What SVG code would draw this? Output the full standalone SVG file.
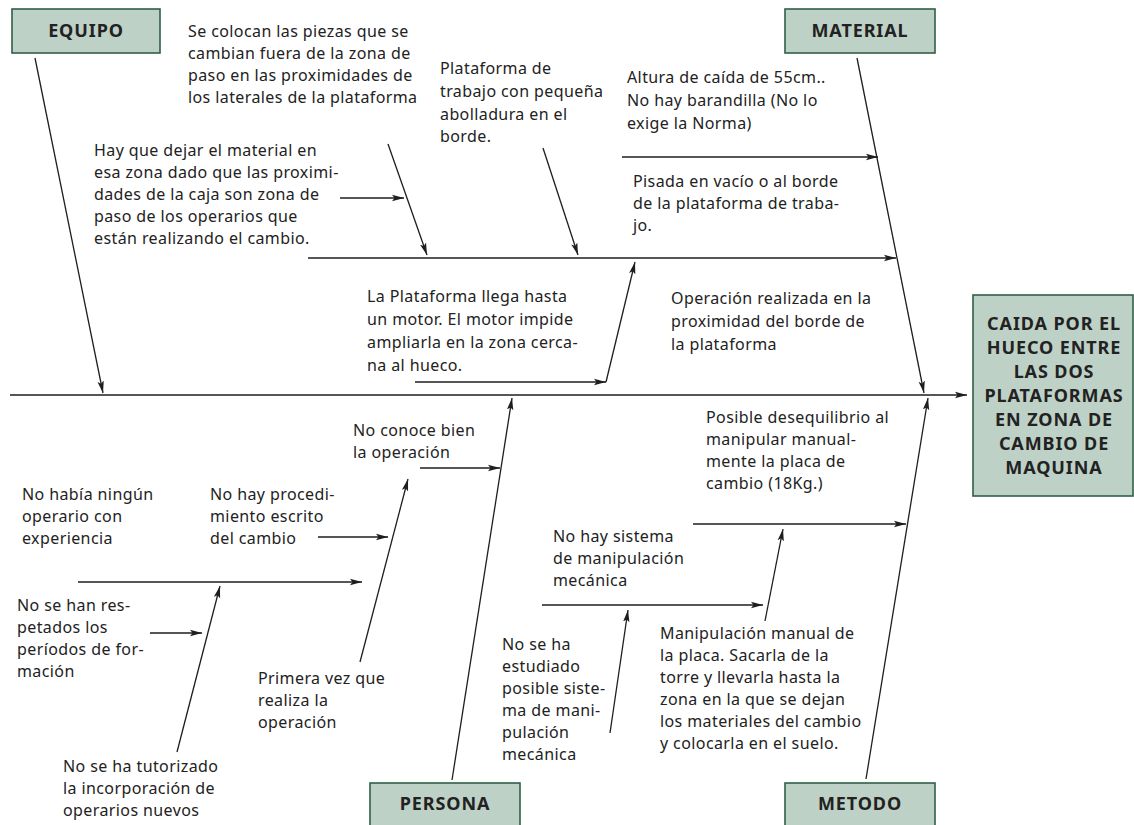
<svg xmlns="http://www.w3.org/2000/svg" width="1134" height="825" viewBox="0 0 1134 825">
<defs>
<marker id="ah" viewBox="0 0 12 8" refX="12" refY="4" markerWidth="12" markerHeight="8" markerUnits="userSpaceOnUse" orient="auto">
<path d="M0,0.8 L12,4 L0,7.2 L2.5,4 z" fill="#1e1e1e"/>
</marker>
</defs>
<style>
.box{fill:#bed1c6;stroke:#2f5f47;stroke-width:1.6}
.lbl{font-family:"Noto Sans","Open Sans",sans-serif;font-weight:bold;font-size:18px;letter-spacing:0.9px;fill:#222;text-anchor:middle}
.t{font-family:"Noto Sans","Open Sans",sans-serif;font-size:16px;letter-spacing:0.4px;fill:#222}
.c line{stroke:#1e1e1e;stroke-width:1.3;marker-end:url(#ah)}
</style>
<rect width="1134" height="825" fill="#fff"/>

<g id="equipo"><rect class="box" x="12" y="9" width="148" height="44"/><text class="lbl" x="86" y="37">EQUIPO</text></g>
<g id="material"><rect class="box" x="785" y="9" width="150" height="44"/><text class="lbl" x="860" y="37">MATERIAL</text></g>
<g id="persona"><rect class="box" x="370" y="783" width="150" height="50"/><text class="lbl" x="445" y="810">PERSONA</text></g>
<g id="metodo"><rect class="box" x="785" y="783" width="150" height="50"/><text class="lbl" x="860" y="810">METODO</text></g>
<g id="efecto"><rect class="box" x="973" y="295" width="160" height="201"/>
<text class="lbl" x="1054" y="330">CAIDA POR EL</text>
<text class="lbl" x="1054" y="354">HUECO ENTRE</text>
<text class="lbl" x="1054" y="378">LAS DOS</text>
<text class="lbl" x="1054" y="402">PLATAFORMAS</text>
<text class="lbl" x="1054" y="426">EN ZONA DE</text>
<text class="lbl" x="1054" y="450">CAMBIO DE</text>
<text class="lbl" x="1054" y="474">MAQUINA</text>
</g>

<g id="connectors" class="c">
<line x1="10" y1="395" x2="967" y2="395"/>
<line x1="35" y1="58" x2="103" y2="393"/>
<line x1="857" y1="58" x2="924" y2="393"/>
<line x1="452" y1="780" x2="512" y2="398"/>
<line x1="866" y1="779" x2="928" y2="398"/>
<line x1="308" y1="258" x2="896" y2="258"/>
<line x1="622" y1="157" x2="878" y2="157"/>
<line x1="388" y1="144" x2="427" y2="255"/>
<line x1="340" y1="198" x2="404" y2="198"/>
<line x1="543" y1="148" x2="578" y2="255"/>
<line x1="415" y1="382" x2="606" y2="382"/>
<line x1="606" y1="382" x2="635" y2="262"/>
<line x1="420" y1="468" x2="500" y2="468"/>
<line x1="360" y1="662" x2="408" y2="479"/>
<line x1="318" y1="537" x2="388" y2="537"/>
<line x1="78" y1="582" x2="362" y2="582"/>
<line x1="177" y1="752" x2="220" y2="586"/>
<line x1="150" y1="633" x2="202" y2="633"/>
<line x1="693" y1="524" x2="906" y2="524"/>
<line x1="765" y1="621" x2="783" y2="529"/>
<line x1="542" y1="605" x2="763" y2="605"/>
<line x1="610" y1="733" x2="628" y2="610"/>
</g>

<g id="n1"><text class="t" x="188" y="37">Se colocan las piezas que se</text><text class="t" x="188" y="59">cambian fuera de la zona de</text><text class="t" x="188" y="81">paso en las proximidades de</text><text class="t" x="188" y="103">los laterales de la plataforma</text></g>
<g id="n2"><text class="t" x="440" y="74">Plataforma de</text><text class="t" x="440" y="97">trabajo con pequeña</text><text class="t" x="440" y="120">abolladura en el</text><text class="t" x="440" y="142">borde.</text></g>
<g id="n3"><text class="t" x="627" y="83">Altura de caída de 55cm..</text><text class="t" x="627" y="106">No hay barandilla (No lo</text><text class="t" x="627" y="129">exige la Norma)</text></g>
<g id="n4"><text class="t" x="94" y="156">Hay que dejar el material en</text><text class="t" x="94" y="178">esa zona dado que las proximi-</text><text class="t" x="94" y="200">dades de la caja son zona de</text><text class="t" x="94" y="222">paso de los operarios que</text><text class="t" x="94" y="244">están realizando el cambio.</text></g>
<g id="n5"><text class="t" x="633" y="187">Pisada en vacío o al borde</text><text class="t" x="633" y="209">de la plataforma de traba-</text><text class="t" x="633" y="231">jo.</text></g>
<g id="n6"><text class="t" x="367" y="302">La Plataforma llega hasta</text><text class="t" x="367" y="325">un motor. El motor impide</text><text class="t" x="367" y="348">ampliarla en la zona cerca-</text><text class="t" x="367" y="371">na al hueco.</text></g>
<g id="n7"><text class="t" x="671" y="304">Operación realizada en la</text><text class="t" x="671" y="327">proximidad del borde de</text><text class="t" x="671" y="350">la plataforma</text></g>
<g id="n8"><text class="t" x="353" y="436">No conoce bien</text><text class="t" x="353" y="458">la operación</text></g>
<g id="n9"><text class="t" x="22" y="500">No había ningún</text><text class="t" x="22" y="522">operario con</text><text class="t" x="22" y="544">experiencia</text></g>
<g id="n10"><text class="t" x="210" y="500">No hay procedi-</text><text class="t" x="210" y="522">miento escrito</text><text class="t" x="210" y="544">del cambio</text></g>
<g id="n11"><text class="t" x="17" y="611">No se han res-</text><text class="t" x="17" y="633">petados los</text><text class="t" x="17" y="655">períodos de for-</text><text class="t" x="17" y="677">mación</text></g>
<g id="n12"><text class="t" x="258" y="684">Primera vez que</text><text class="t" x="258" y="706">realiza  la</text><text class="t" x="258" y="728">operación</text></g>
<g id="n13"><text class="t" x="63" y="772">No se ha tutorizado</text><text class="t" x="63" y="794">la incorporación de</text><text class="t" x="63" y="816">operarios nuevos</text></g>
<g id="n14"><text class="t" x="706" y="423">Posible desequilibrio al</text><text class="t" x="706" y="445">manipular manual-</text><text class="t" x="706" y="467">mente la placa  de</text><text class="t" x="706" y="489">cambio (18Kg.)</text></g>
<g id="n15"><text class="t" x="553" y="542">No hay sistema</text><text class="t" x="553" y="564">de manipulación</text><text class="t" x="553" y="586">mecánica</text></g>
<g id="n16"><text class="t" x="502" y="650">No se ha</text><text class="t" x="502" y="672">estudiado</text><text class="t" x="502" y="694">posible siste-</text><text class="t" x="502" y="716">ma de mani-</text><text class="t" x="502" y="738">pulación</text><text class="t" x="502" y="760">mecánica</text></g>
<g id="n17"><text class="t" x="660" y="639">Manipulación manual de</text><text class="t" x="660" y="661">la placa. Sacarla de la</text><text class="t" x="660" y="683">torre y llevarla hasta la</text><text class="t" x="660" y="705">zona en la que se dejan</text><text class="t" x="660" y="727">los materiales del cambio</text><text class="t" x="660" y="749">y colocarla en el suelo.</text></g>
</svg>
